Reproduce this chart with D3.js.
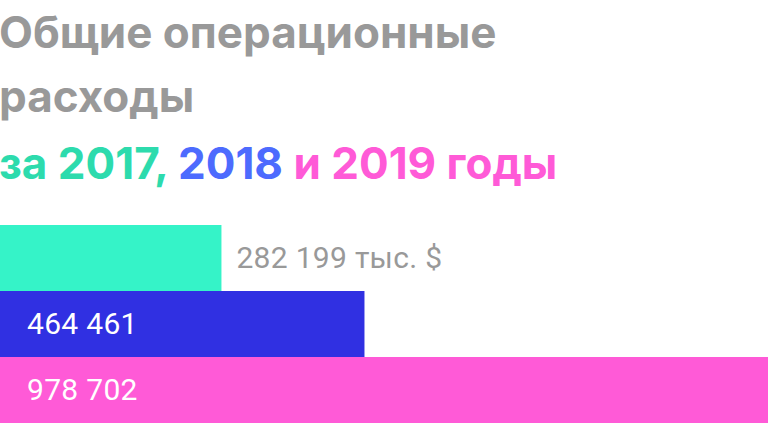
<!DOCTYPE html>
<html>
<head>
<meta charset="utf-8">
<script src="https://d3js.org/d3.v7.min.js"></script>
<style>
    body { margin: 0; background: #fff; }
    svg { display: block; }
    .title { font-family: Inter, "Noto Sans", sans-serif; font-weight: 700; font-size: 44px; }
    .lbl { font-family: Roboto, sans-serif; font-weight: 400; font-size: 30px; letter-spacing: 0.3px; }
</style>
</head>
<body>
<svg id="chart" width="768" height="424"></svg>
<script>
// data
const years = ["2017", "2018", "2019"];
const expenses = [282199, 464461, 978702];
const unitSuffix = " тыс. $";
const titleLines = ["Общие операционные", "расходы"];
const subtitleParts = [
    {text: "за 2017, ", year: "2017"},
    {text: "2018 ", year: "2018"},
    {text: "и 2019 годы", year: "2019"}
];

const W = 768, H = 424;
const barColor = d3.scaleOrdinal(years, ["#35F3C8", "#3030E2", "#FF5AD7"]);
const textColor = d3.scaleOrdinal(years, ["#2DDBAD", "#4D6BFE", "#FF5AD7"]);
const fmt = d3.formatLocale({decimal: ",", thousands: " ", grouping: [3], currency: ["", ""]}).format(",d");

const svg = d3.select("#chart");

// title
const title = svg.append("text").attr("class", "title").attr("x", -1);
titleLines.forEach((t, i) => {
    title.append("tspan").attr("x", -1).attr("y", 48 + i * 64).attr("fill", "#999999").text(t);
});
const sub = svg.append("text").attr("class", "title").attr("x", -1).attr("y", 179);
subtitleParts.forEach(p => {
    sub.append("tspan").attr("fill", textColor(p.year)).text(p.text);
});

// bars
const x = d3.scaleLinear().domain([0, d3.max(expenses)]).range([0, W]);
const y = d3.scaleBand().domain(years).range([225, 423]).padding(0);

const rows = years.map((yr, i) => ({year: yr, value: expenses[i]}));

svg.append("g").selectAll("rect").data(rows).join("rect")
    .attr("x", 0)
    .attr("y", d => y(d.year))
    .attr("width", d => x(d.value))
    .attr("height", y.bandwidth())
    .attr("fill", d => barColor(d.year));

svg.append("g").selectAll("text").data(rows).join("text")
    .attr("class", "lbl")
    .attr("x", (d, i) => i === 0 ? x(d.value) + 15 : 27)
    .attr("y", d => y(d.year) + y.bandwidth() / 2 + 10)
    .attr("fill", (d, i) => i === 0 ? "#999999" : "#ffffff")
    .text((d, i) => i === 0 ? fmt(d.value) + unitSuffix : fmt(d.value));
</script>
</body>
</html>
